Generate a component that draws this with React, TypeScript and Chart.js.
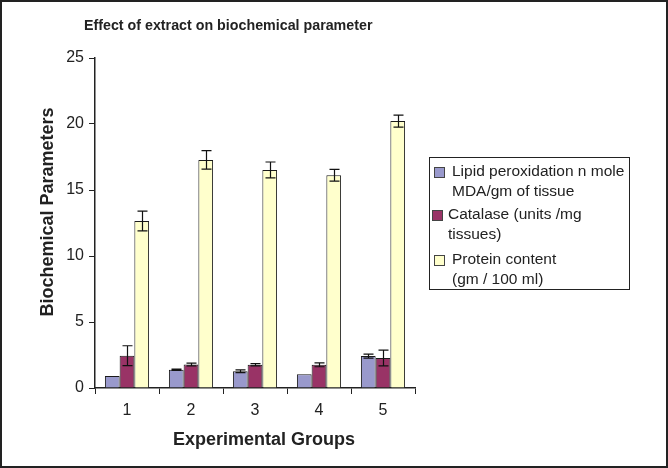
import React, { useEffect, useRef } from "react";
import { Chart, registerables } from "chart.js";

Chart.register(...registerables);

const categories = ["1", "2", "3", "4", "5"];
const seriesNames = [
  ["Lipid peroxidation n mole", "MDA/gm of tissue"],
  ["Catalase (units /mg", "tissues)"],
  ["Protein content", "(gm / 100 ml)"],
];
const lipidValues = [0.9, 1.38, 1.27, 1.05, 2.42];
const lipidErrors = [0, 0.05, 0.1, 0, 0.15];
const catalaseValues = [2.45, 1.78, 1.76, 1.76, 2.27];
const catalaseErrors = [0.75, 0.1, 0.08, 0.15, 0.6];
const proteinValues = [12.65, 17.28, 16.52, 16.12, 20.22];
const proteinErrors = [0.75, 0.7, 0.6, 0.45, 0.45];
const colors = ["#9999CC", "#993366", "#FFFFCC"];
const yTicks = [0, 5, 10, 15, 20, 25];
const chartTitle = "Effect of extract on biochemical parameter";
const xTitle = "Experimental Groups";
const yTitle = "Biochemical Parameters";

const FONT = "'Liberation Sans', Arial, sans-serif";

const errorBarPlugin = {
  id: "errorBars",
  afterDatasetsDraw(chart: any) {
    const ctx = chart.ctx;
    const yScale = chart.scales.y;
    chart.data.datasets.forEach((ds: any, i: number) => {
      const meta = chart.getDatasetMeta(i);
      const errs: number[] = ds.errors || [];
      meta.data.forEach((bar: any, j: number) => {
        const e = errs[j];
        if (!e) return;
        const v = ds.data[j];
        const yTop = yScale.getPixelForValue(v + e);
        const yBot = yScale.getPixelForValue(v - e);
        const x = Math.round(bar.x) + 0.5;
        ctx.save();
        ctx.strokeStyle = "#111";
        ctx.lineWidth = 1.2;
        ctx.beginPath();
        ctx.moveTo(x, yTop);
        ctx.lineTo(x, yBot);
        ctx.moveTo(x - 5, yTop);
        ctx.lineTo(x + 5, yTop);
        ctx.moveTo(x - 5, yBot);
        ctx.lineTo(x + 5, yBot);
        ctx.stroke();
        ctx.restore();
      });
    });
  },
};

export default function App() {
  const ref = useRef<HTMLCanvasElement | null>(null);
  useEffect(() => {
    document.body.style.margin = "0";
    if (!ref.current) return;
    const mk = (label: string, data: number[], errors: number[], color: string) => ({
      label,
      data,
      errors,
      backgroundColor: color,
      borderColor: "#1a1a1a",
      borderWidth: 1,
      barPercentage: 1,
      categoryPercentage: 0.69,
    });
    const chart = new Chart(ref.current, {
      type: "bar",
      data: {
        labels: categories,
        datasets: [
          mk(seriesNames[0].join(" "), lipidValues, lipidErrors, colors[0]),
          mk(seriesNames[1].join(" "), catalaseValues, catalaseErrors, colors[1]),
          mk(seriesNames[2].join(" "), proteinValues, proteinErrors, colors[2]),
        ] as any,
      },
      options: {
        animation: false,
        responsive: false,
        devicePixelRatio: 1,
        layout: { padding: { left: 0, right: 253, top: 58, bottom: 0 } },
        plugins: {
          legend: { display: false },
          tooltip: { enabled: false },
          title: { display: false },
        },
        scales: {
          x: {
            afterFit: (scale: any) => {
              scale.height = 80;
            },
            grid: {
              display: true,
              drawOnChartArea: false,
              drawTicks: true,
              tickLength: 6,
              color: "#222",
              offset: true,
            },
            border: { color: "#222", width: 1.5 },
            ticks: { color: "#222", font: { family: FONT, size: 16 }, padding: 7 },
          },
          y: {
            min: 0,
            max: 25,
            afterBuildTicks: (scale: any) => {
              scale.ticks = yTicks.map((v) => ({ value: v }));
            },
            afterFit: (scale: any) => {
              scale.width = 95;
            },
            grid: {
              display: true,
              drawOnChartArea: false,
              drawTicks: true,
              tickLength: 6,
              color: "#222",
            },
            border: { color: "#222", width: 1.5 },
            ticks: { color: "#222", font: { family: FONT, size: 16 }, padding: 5 },
          },
        },
      },
      plugins: [errorBarPlugin],
    });
    return () => chart.destroy();
  }, []);

  const legendItem = (lines: string[], color: string, sqLeft: number, textLeft: number, top: number) => (
    <React.Fragment key={lines[0]}>
      <div
        style={{
          position: "absolute",
          left: sqLeft,
          top: top - 4,
          width: 9,
          height: 9,
          background: color,
          border: "1px solid #444",
        }}
      />
      {lines.map((l, k) => (
        <div
          key={l}
          style={{
            position: "absolute",
            left: textLeft,
            top: top - 10 + k * 19.5,
            lineHeight: "20px",
            whiteSpace: "nowrap",
          }}
        >
          {l}
        </div>
      ))}
    </React.Fragment>
  );

  return (
    <div style={{ position: "relative", width: 668, height: 468, background: "#fff", fontFamily: FONT }}>
      <canvas ref={ref} width={668} height={468} style={{ position: "absolute", left: 0, top: 0 }} />
      <div
        style={{
          position: "absolute",
          left: 84,
          top: 16,
          fontSize: 15.5,
          lineHeight: "18px",
          fontWeight: "bold",
          color: "#222",
          whiteSpace: "nowrap",
          transform: "scaleX(0.92)",
          transformOrigin: "0 0",
        }}
      >
        {chartTitle}
      </div>
      <div
        style={{
          position: "absolute",
          left: 164,
          width: 200,
          top: 428,
          textAlign: "center",
          fontSize: 18,
          lineHeight: "22px",
          fontWeight: "bold",
          color: "#222",
          whiteSpace: "nowrap",
        }}
      >
        {xTitle}
      </div>
      <div
        style={{
          position: "absolute",
          left: 47 - 130,
          top: 212 - 11,
          width: 260,
          textAlign: "center",
          fontSize: 18,
          lineHeight: "22px",
          fontWeight: "bold",
          color: "#222",
          whiteSpace: "nowrap",
          transform: "rotate(-90deg)",
          transformOrigin: "50% 50%",
        }}
      >
        {yTitle}
      </div>
      <div
        style={{
          position: "absolute",
          left: 429,
          top: 157,
          width: 201,
          height: 133,
          boxSizing: "border-box",
          border: "1px solid #222",
        }}
      />
      <div style={{ position: "absolute", left: 0, top: 0, fontSize: 15.5, color: "#222" }}>
        {legendItem(seriesNames[0], colors[0], 434, 452, 171)}
        {legendItem(seriesNames[1], colors[1], 432, 448, 214)}
        {legendItem(seriesNames[2], colors[2], 434, 452, 259)}
      </div>
      <div
        style={{
          position: "absolute",
          left: 0,
          top: 0,
          width: 668,
          height: 468,
          boxSizing: "border-box",
          border: "2px solid #222",
          pointerEvents: "none",
        }}
      />
    </div>
  );
}
